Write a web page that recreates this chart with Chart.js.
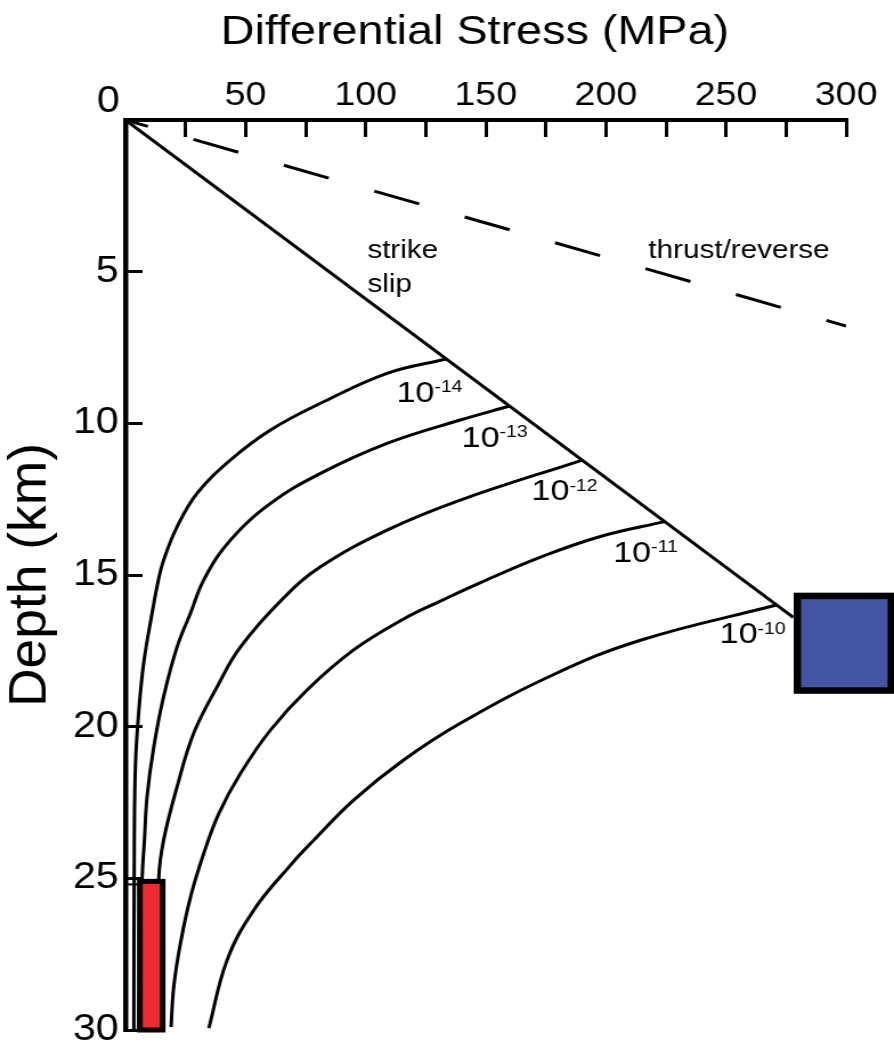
<!DOCTYPE html>
<html>
<head>
<meta charset="utf-8">
<title>Differential stress vs depth</title>
<script src="https://cdn.jsdelivr.net/npm/chart.js@4.4.0/dist/chart.umd.min.js"></script>
<style>
  html, body { margin: 0; padding: 0; background: #fff; }
</style>
</head>
<body>
<!-- canvas is drawn 784 wide and stretched to the page width -->
<canvas id="chart" width="784" height="1047" style="display:block;width:894px;height:1047px"></canvas>
<script>
// ---------- data (stress in MPa, depth in km) ----------
const strikeSlipStress = [0, 278];
const strikeSlipDepth = [0, 16.4];

const thrustStress = [0, 300];
const thrustDepth = [0, 6.79];

// flow-law curves for strain rates 1e-14 ... 1e-10 s^-1
const rate14Stress = [133.5, 108.9, 81.2, 60.4, 43.7, 29.8, 21.5, 15.9, 13.7, 11.1, 7.6, 5.5, 4.2, 3.7, 3.5];
const rate14Depth  = [7.88, 8.35, 9.34, 10.22, 11.21, 12.31, 13.41, 14.51, 15.17, 16.25, 17.9, 19.55, 21.2, 23.74, 30];

const rate13Stress = [160, 139.4, 108.9, 81.2, 60.4, 43.7, 33.0, 27.1, 21.5, 15.9, 11.8, 9.0, 7.9, 6.95, 5.4];
const rate13Depth  = [9.43, 9.89, 10.66, 11.65, 12.64, 13.85, 15.10, 16.25, 17.37, 19.01, 20.66, 22.31, 23.74, 25.02, 30];

const rate12Stress = [190.2, 139.4, 108.9, 81.2, 65.8, 47.9, 38.2, 28.4, 21.5, 15.9, 13.9, 12.1];
const rate12Depth  = [11.21, 12.53, 13.52, 14.73, 15.76, 17.37, 18.68, 20.22, 21.98, 23.74, 24.95, 30];

const rate11Stress = [224.5, 197.7, 172.8, 147.8, 131.1, 115.8, 95.0, 75.6, 60.4, 47.9, 38.9, 32.6, 27.1, 22.9, 20.1, 19.0];
const rate11Depth  = [13.24, 13.73, 14.41, 15.25, 15.86, 16.45, 17.47, 18.79, 20.11, 21.54, 22.86, 24.18, 25.61, 27.14, 28.58, 29.9];

const rate10Stress = [271, 214.4, 178.3, 139.4, 115.8, 95.0, 78.4, 69.1, 53.4, 42.3, 34.7];
const rate10Depth  = [15.99, 17.15, 18.28, 19.89, 21.10, 22.42, 23.74, 24.53, 26.05, 27.70, 29.94];

// boxes: [min, max] stress and depth
const redBoxStress = [6.0, 15.5];
const redBoxDepth = [25.1, 30.0];
const blueBoxStress = [279.7, 318.8];
const blueBoxDepth = [15.69, 18.81];
const sideBoxStress = [0, 6.0];
const sideBoxDepth = [25.2, 30.0];

// axis ticks
const stressTicks = [50, 100, 150, 200, 250, 300];
const depthTicks = [5, 10, 15, 20, 25, 30];

// strain-rate labels: exponent, stress / depth of the text baseline start
const rateExponents = ['-14', '-13', '-12', '-11', '-10'];
const rateLabelStress = [112.8, 139.9, 169.0, 203.0, 247.3];
const rateLabelDepth = [9.29, 10.77, 12.53, 14.56, 17.25];

const FONT = '"Liberation Sans", Arial, Helvetica, sans-serif';

function toPoints(xs, ys) {
  return xs.map((x, i) => ({ x: x, y: ys[i] }));
}

function curve(xs, ys) {
  return {
    data: toPoints(xs, ys),
    showLine: true,
    borderColor: '#000',
    borderWidth: 3,
    pointRadius: 0,
    tension: 0.4,
    fill: false
  };
}

// ---------- boxes and text labels ----------
const overlay = {
  id: 'overlay',
  afterDatasetsDraw(chart) {
    const ctx = chart.ctx;
    const xs = chart.scales.x;
    const ys = chart.scales.y;
    const px = v => xs.getPixelForValue(v);
    const py = v => ys.getPixelForValue(v);
    const area = chart.chartArea;

    ctx.save();

    // thin outline between axis and red box
    ctx.strokeStyle = '#000';
    ctx.lineWidth = 2;
    ctx.strokeRect(px(sideBoxStress[0]), py(sideBoxDepth[0]),
      px(sideBoxStress[1]) - px(sideBoxStress[0]), py(sideBoxDepth[1]) - py(sideBoxDepth[0]));

    const box = (sx, dy, fill, lw) => {
      const x0 = px(sx[0]), x1 = px(sx[1]);
      const y0 = py(dy[0]), y1 = py(dy[1]);
      ctx.fillStyle = fill;
      ctx.fillRect(x0, y0, x1 - x0, y1 - y0);
      ctx.lineWidth = lw;
      ctx.strokeStyle = '#000';
      ctx.strokeRect(x0, y0, x1 - x0, y1 - y0);
    };
    box(redBoxStress, redBoxDepth, '#EC2A30', 5);
    box(blueBoxStress, blueBoxDepth, '#4256A4', 6.5);

    ctx.fillStyle = '#000';
    ctx.textBaseline = 'alphabetic';
    ctx.textAlign = 'left';

    // strain rate labels 10^-n
    rateExponents.forEach((exp, i) => {
      const x = px(rateLabelStress[i]);
      const y = py(rateLabelDepth[i]);
      ctx.font = '30px ' + FONT;
      ctx.fillText('10', x, y);
      const w = ctx.measureText('10').width;
      ctx.font = '17px ' + FONT;
      ctx.fillText(exp, x + w, y - 9.3);
    });

    // fault regime labels
    ctx.font = '26px ' + FONT;
    ctx.fillText('strike', px(100.7), py(4.56));
    ctx.fillText('slip', px(100.7), py(5.66));
    ctx.fillText('thrust/reverse', px(217.7), py(4.56));

    ctx.textAlign = 'center';
    ctx.textBaseline = 'middle';

    // origin label
    ctx.font = '36px ' + FONT;
    ctx.fillText('0', px(0) - 15, py(0) - 17.5);

    // stress axis title, sits a little left of the axis centre
    ctx.font = '41px ' + FONT;
    ctx.fillText('Differential Stress (MPa)', (area.left + area.right) / 2 - 9.5, 33);

    // depth axis title, rotated and drawn a bit long
    ctx.save();
    ctx.translate(27.6, (area.top + area.bottom) / 2);
    ctx.rotate(-Math.PI / 2);
    ctx.scale(1.16, 1);
    ctx.font = '46px ' + FONT;
    ctx.fillText('Depth (km)', 0, 0);
    ctx.restore();

    ctx.restore();
  }
};

// keep the plot area fixed: no extra room for overhanging tick labels
function fixX(s) {
  s.height = 120;
  s.paddingLeft = 0;
  s.paddingRight = 0;
}
function fixY(s) {
  s.width = 110;
  s.paddingTop = 0;
  s.paddingBottom = 0;
}

new Chart(document.getElementById('chart'), {
  type: 'scatter',
  data: {
    datasets: [
      {
        data: toPoints(strikeSlipStress, strikeSlipDepth),
        showLine: true, borderColor: '#000', borderWidth: 3, pointRadius: 0
      },
      {
        data: toPoints(thrustStress, thrustDepth),
        showLine: true, borderColor: '#000', borderWidth: 3, pointRadius: 0,
        borderDash: [41.4, 42], borderDashOffset: 20.7
      },
      curve(rate14Stress, rate14Depth),
      curve(rate13Stress, rate13Depth),
      curve(rate12Stress, rate12Depth),
      curve(rate11Stress, rate11Depth),
      curve(rate10Stress, rate10Depth)
    ]
  },
  options: {
    responsive: false,
    devicePixelRatio: 1,
    animation: false,
    events: [],
    layout: { padding: { top: 0, left: 0, right: 42, bottom: 17 } },
    plugins: {
      legend: { display: false },
      tooltip: { enabled: false }
    },
    scales: {
      x: {
        type: 'linear',
        position: 'top',
        min: 0,
        max: 300,
        afterFit: fixX,
        border: { color: '#000', width: 4 },
        grid: { drawOnChartArea: false, drawTicks: true, tickLength: -17, tickWidth: 3, tickColor: '#000' },
        ticks: {
          stepSize: 25,
          autoSkip: false,
          maxRotation: 0,
          padding: 21,
          color: '#000',
          font: { family: FONT, size: 33 },
          callback: v => stressTicks.includes(v) ? String(v) : ''
        },
        title: { display: false }
      },
      y: {
        type: 'linear',
        position: 'left',
        reverse: true,
        min: 0,
        max: 30,
        afterFit: fixY,
        border: { color: '#000', width: 4.5 },
        grid: { drawOnChartArea: false, drawTicks: true, tickLength: -15, tickWidth: 3, tickColor: '#000' },
        ticks: {
          stepSize: 5,
          autoSkip: false,
          padding: 21,
          color: '#000',
          font: { family: FONT, size: 36 },
          callback: v => depthTicks.includes(v) ? String(v) : ''
        },
        title: { display: false }
      }
    }
  },
  plugins: [overlay]
});
</script>
</body>
</html>
